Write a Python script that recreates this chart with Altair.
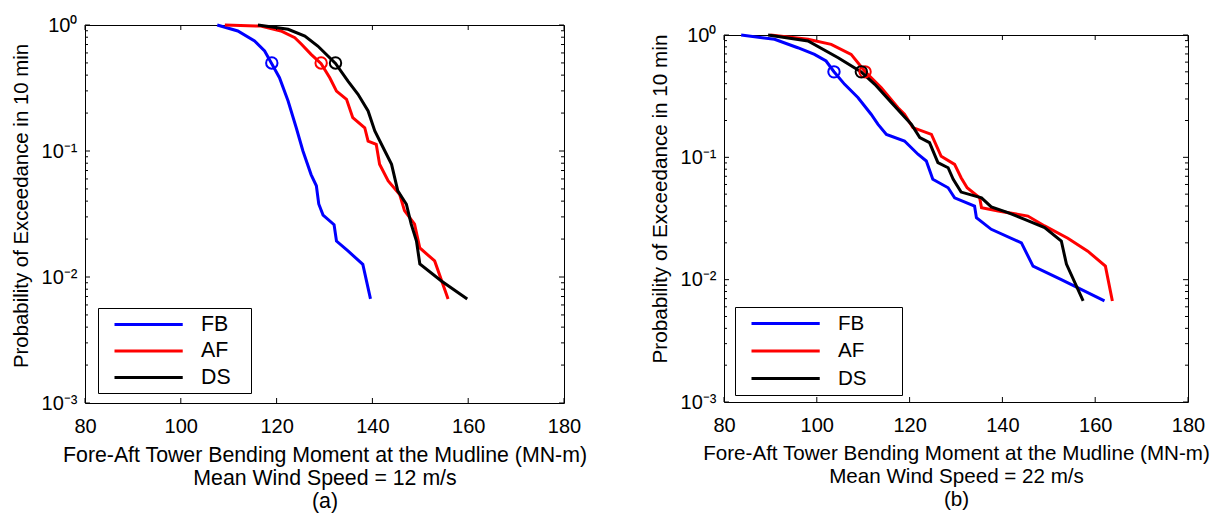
import altair as alt
import pandas as pd

FONT = "Liberation Sans"
series_names = ["FB", "AF", "DS"]
series_colors = ["#0000ff", "#ff0000", "#000000"]

# ---------------- panel (a): mean wind speed 12 m/s ----------------
a_fb_x = [107.6, 111.9, 115.4, 117.5, 118.9, 120.6, 122.4, 124.1, 125.5, 127.2, 128.3,
          128.8, 129.7, 132.0, 132.5, 134.9, 138.0, 139.6]
a_fb_p = [1.0, 0.896, 0.746, 0.622, 0.50, 0.382, 0.249, 0.153, 0.100, 0.065, 0.053,
          0.038, 0.031, 0.026, 0.0193, 0.0161, 0.0126, 0.0067]
a_af_x = [109.2, 116.7, 120.9, 123.8, 125.2, 127.2, 129.3, 131.1, 132.5, 134.6, 135.9,
          138.4, 139.1, 140.8, 141.5, 143.3, 145.7, 146.7, 148.8, 149.9, 153.0, 155.8]
a_af_p = [1.0, 0.98, 0.896, 0.793, 0.703, 0.585, 0.493, 0.381, 0.299, 0.257, 0.184,
          0.153, 0.120, 0.113, 0.0786, 0.0578, 0.0452, 0.0336, 0.0263, 0.0170, 0.0134, 0.0067]
a_ds_x = [116.1, 122.4, 125.9, 128.6, 132.3, 134.9, 137.0, 139.1, 140.5, 142.6, 144.0,
          145.3, 147.1, 148.1, 149.2, 149.9, 154.4, 159.8]
a_ds_p = [1.0, 0.924, 0.818, 0.681, 0.496, 0.359, 0.282, 0.208, 0.144, 0.100, 0.0784,
          0.0482, 0.0378, 0.0263, 0.0193, 0.0127, 0.0093, 0.0067]
a_median_x = [119.0, 129.3, 132.3]

# ---------------- panel (b): mean wind speed 22 m/s ----------------
b_fb_x = [83.7, 90.9, 95.9, 99.5, 102.0, 103.7, 106.0, 108.9, 111.7, 113.2, 115.0, 118.9,
          121.8, 123.6, 125.0, 128.3, 129.7, 134.0, 134.4, 137.6, 144.1, 146.6, 152.7, 162.0]
b_fb_p = [1.0, 0.922, 0.787, 0.695, 0.613, 0.501, 0.395, 0.307, 0.225, 0.186, 0.154, 0.136,
          0.106, 0.0933, 0.0661, 0.0564, 0.0467, 0.0400, 0.0321, 0.0258, 0.0200, 0.0129,
          0.0100, 0.0067]
b_af_x = [90.0, 98.1, 103.1, 107.4, 110.3, 113.9, 117.5, 118.9, 120.7, 124.7, 126.8, 129.7,
          131.1, 132.4, 135.1, 135.5, 139.1, 145.5, 149.1, 154.1, 158.4, 162.2, 163.7]
b_af_p = [1.0, 0.922, 0.839, 0.695, 0.508, 0.371, 0.254, 0.225, 0.175, 0.154, 0.102, 0.0876,
          0.0682, 0.0564, 0.0467, 0.0387, 0.0364, 0.0331, 0.0275, 0.0218, 0.0171, 0.0129, 0.0067]
b_ds_x = [89.5, 98.1, 104.6, 109.5, 112.5, 116.1, 120.4, 122.2, 124.3, 126.1, 128.3, 129.4,
          131.1, 135.5, 137.6, 141.2, 144.8, 149.1, 152.7, 153.8, 157.4]
b_ds_p = [1.0, 0.893, 0.652, 0.501, 0.395, 0.280, 0.186, 0.145, 0.132, 0.0905, 0.0822, 0.0661,
          0.0520, 0.0467, 0.0393, 0.0353, 0.0311, 0.0267, 0.0207, 0.0134, 0.0067]
b_median_x = [103.7, 110.4, 109.6]

median_p = 0.5

x_ticks = [80, 100, 120, 140, 160, 180]
y_major = [0.001, 0.01, 0.1, 1.0]
y_minor = [k * 10.0 ** e for e in (-3, -2, -1) for k in range(2, 10)]

a_title = ["Fore-Aft Tower Bending Moment at the Mudline (MN-m)", "Mean Wind Speed = 12 m/s", "(a)"]
b_title = ["Fore-Aft Tower Bending Moment at the Mudline (MN-m)", "Mean Wind Speed = 22 m/s", "(b)"]
y_title = "Probability of Exceedance in 10 min"

Y_LABELS = ("datum.value > 0.5 ? '10\u2070' : datum.value > 0.05 ? '10\u207b\u00b9' : "
            "datum.value > 0.005 ? '10\u207b\u00b2' : '10\u207b\u00b3'")


def curves_df(xs_list, ps_list):
    rows = []
    for name, xs, ps in zip(series_names, xs_list, ps_list):
        for i, (x, p) in enumerate(zip(xs, ps)):
            rows.append({"series": name, "x": x, "p": p, "i": i})
    return pd.DataFrame(rows)


def panel(df, med_x, W, H, title_lines, lx, ly, tfs, yfs, ytitle_y, npad):
    xsc = alt.Scale(domain=[80, 180], nice=False, zero=False)
    ysc = alt.Scale(type="log", domain=[0.001, 1], nice=False)
    csc = alt.Scale(domain=series_names, range=series_colors)

    xaxis = alt.Axis(values=x_ticks, title=title_lines, ticks=False, domain=False, grid=False,
                     labelFontSize=20, titleFontSize=tfs, labelPadding=13, titlePadding=8,
                     titleLineHeight=23, labelFlush=False, labelOverlap=False,
                     titleFontWeight="normal", labelColor="black", titleColor="black",
                     labelFont=FONT, titleFont=FONT)
    yaxis = alt.Axis(values=y_major, labelExpr=Y_LABELS, title=y_title, ticks=False,
                     domain=False, grid=False, labelFontSize=20, titleFontSize=yfs,
                     labelPadding=8, titlePadding=10, labelFlush=False, labelOverlap=False,
                     titleFontWeight="normal", labelColor="black", titleColor="black",
                     labelFont=FONT, titleFont=FONT, titleY=ytitle_y)

    pad = "\u2800" * npad
    lines = alt.Chart(df).mark_line(strokeWidth=3).encode(
        x=alt.X("x:Q", scale=xsc, axis=xaxis),
        y=alt.Y("p:Q", scale=ysc, axis=yaxis),
        color=alt.Color("series:N", scale=csc, sort=series_names,
                        legend=alt.Legend(orient="none", legendX=lx, legendY=ly, title=None,
                                          symbolType="M0,0H7", symbolSize=380,
                                          symbolStrokeWidth=3, labelFontSize=tfs,
                                          labelFont=FONT, labelColor="black",
                                          labelOffset=75, padding=5, rowPadding=4.5,
                                          strokeColor="black", fillColor="white",
                                          labelExpr="datum.label + '" + pad + "'")),
        order="i:Q",
    )

    med = pd.DataFrame({"series": series_names, "x": med_x, "p": [median_p] * 3})
    circles = alt.Chart(med).mark_point(shape="circle", filled=False, size=130,
                                        strokeWidth=2, opacity=1).encode(
        x=alt.X("x:Q", scale=xsc, axis=xaxis),
        y=alt.Y("p:Q", scale=ysc, axis=yaxis),
        color=alt.Color("series:N", scale=csc, legend=None),
    )

    xt = pd.DataFrame({"x": x_ticks})
    ymaj = pd.DataFrame({"p": y_major})
    ymin = pd.DataFrame({"p": y_minor})
    tick_layers = [
        alt.Chart(xt).mark_rule(color="black", strokeWidth=1).encode(
            x=alt.X("x:Q", scale=xsc, axis=xaxis), y=alt.value(H), y2=alt.value(H - 5)),
        alt.Chart(xt).mark_rule(color="black", strokeWidth=1).encode(
            x=alt.X("x:Q", scale=xsc, axis=xaxis), y=alt.value(0), y2=alt.value(5)),
        alt.Chart(ymaj).mark_rule(color="black", strokeWidth=1).encode(
            y=alt.Y("p:Q", scale=ysc, axis=yaxis), x=alt.value(0), x2=alt.value(5)),
        alt.Chart(ymaj).mark_rule(color="black", strokeWidth=1).encode(
            y=alt.Y("p:Q", scale=ysc, axis=yaxis), x=alt.value(W), x2=alt.value(W - 5)),
        alt.Chart(ymin).mark_rule(color="black", strokeWidth=1).encode(
            y=alt.Y("p:Q", scale=ysc, axis=yaxis), x=alt.value(0), x2=alt.value(3)),
        alt.Chart(ymin).mark_rule(color="black", strokeWidth=1).encode(
            y=alt.Y("p:Q", scale=ysc, axis=yaxis), x=alt.value(W), x2=alt.value(W - 3)),
    ]

    return alt.layer(lines, circles, *tick_layers).resolve_scale(color="independent").properties(
        width=W, height=H)


df_a = curves_df([a_fb_x, a_af_x, a_ds_x], [a_fb_p, a_af_p, a_ds_p])
df_b = curves_df([b_fb_x, b_af_x, b_ds_x], [b_fb_p, b_af_p, b_ds_p])

left = panel(df_a, a_median_x, 479, 378, a_title, 13, 283, 21.3, 20.4, 180.5, 1)
right = panel(df_b, b_median_x, 464, 367, b_title, 11, 272, 20.6, 20.7, 163.5, 2)

spacer = alt.Chart(pd.DataFrame({"t": [""]})).mark_text().encode(text="t:N").properties(
    width=464, height=1, view=alt.ViewBackground(stroke="transparent"))

right_col = alt.vconcat(spacer, right, spacing=9, bounds="flush")

chart = alt.hconcat(left, right_col, spacing=160, bounds="flush").properties(
    padding={"left": 2, "top": 6, "right": 2, "bottom": 2}
).configure(font=FONT, background="white").configure_view(stroke="black", strokeWidth=1)

chart.save("out.html", embed_options={"renderer": "svg", "actions": False})
